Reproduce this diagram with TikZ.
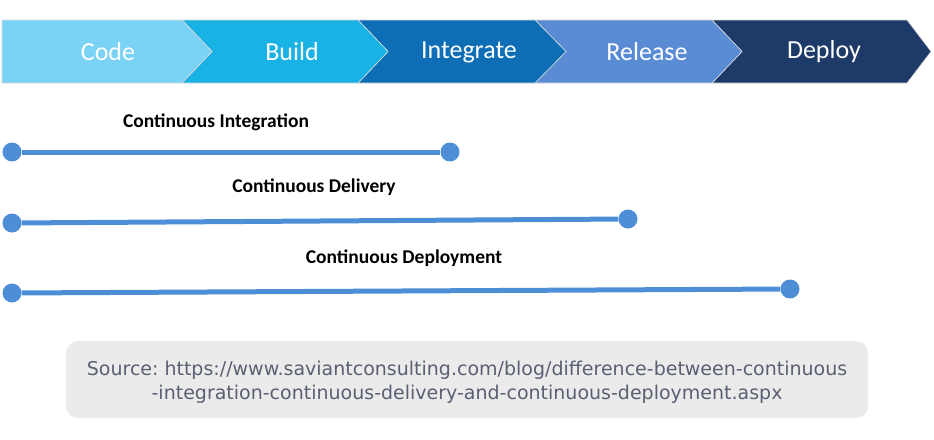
\documentclass[tikz,border=0pt]{standalone}
\usepackage{fontspec}
\setmainfont{Carlito}
\newfontfamily\srcfont{DejaVu Sans}
\frenchspacing
\definecolor{cCode}{HTML}{7AD2F5}
\definecolor{cBuild}{HTML}{19B2E5}
\definecolor{cInteg}{HTML}{0D6EB6}
\definecolor{cRel}{HTML}{5A8CD6}
\definecolor{cDep}{HTML}{1E3A68}
\definecolor{cLine}{HTML}{4E8ED6}
\definecolor{cBox}{HTML}{EBEBEB}
\definecolor{cSrc}{HTML}{5A6072}
\tikzset{
  chev/.style={draw=white!85!black, line width=0.6pt},
  steplabel/.style={text=white, font=\fontsize{26}{30}\selectfont},
  phase/.style={font=\bfseries\fontsize{19.5}{22}\selectfont, text=black},
  dot/.style={circle, fill=cLine, inner sep=0pt, minimum size=19pt},
  bar/.style={cLine, line width=5pt},
}
\begin{document}
\begin{tikzpicture}[x=1pt,y=-1pt]
\useasboundingbox (0,0) rectangle (934,439);
% chevrons
\fill[cDep,chev] (712,20) -- (907,20) -- (931,51.5) -- (907,83) -- (712,83) -- (742,51.5) -- cycle;
\fill[cRel,chev] (535,20) -- (712,20) -- (742,51.5) -- (712,83) -- (535,83) -- (566,51.5) -- cycle;
\fill[cInteg,chev] (358,20) -- (535,20) -- (566,51.5) -- (535,83) -- (358,83) -- (388,51.5) -- cycle;
\fill[cBuild,chev] (182,20) -- (358,20) -- (388,51.5) -- (358,83) -- (182,83) -- (212,51.5) -- cycle;
\fill[cCode,chev] (2,20) -- (182,20) -- (212,51.5) -- (182,83) -- (2,83) -- cycle;
\node[steplabel] (code) at (108,52) {Code};
\node[steplabel] (build) at (292,52) {Build};
\node[steplabel] (integ) at (469,52) {Integrate};
\node[steplabel] (rel) at (647,52) {Release};
\node[steplabel] (dep) at (824,52) {Deploy};
% phases
\node[phase] (ci) at (216,122) {Continuous Integration};
\node[phase] (cdel) at (314,187) {Continuous Delivery};
\node[phase] (cdep) at (404,258) {Continuous Deployment};
\node[dot] (a1) at (12,152) {};
\node[dot] (b1) at (450,152) {};
\node[dot] (a2) at (12,223) {};
\node[dot] (b2) at (628,219) {};
\node[dot] (a3) at (12,293) {};
\node[dot] (b3) at (790,289) {};
\draw[bar] (a1) -- (b1);
\draw[bar] (a2) -- (b2);
\draw[bar] (a3) -- (b3);
% source box
\node[fill=cBox, rounded corners=12pt, minimum width=802pt, minimum height=77pt] (box) at (467,379.5) {};
\node[text=cSrc, font=\srcfont\fontsize{19}{24}\selectfont, align=center] (src) at (467,382) {Source: https://www.saviantconsulting.com/blog/difference-between-continuous\\-integration-continuous-delivery-and-continuous-deployment.aspx};
\end{tikzpicture}
\end{document}
